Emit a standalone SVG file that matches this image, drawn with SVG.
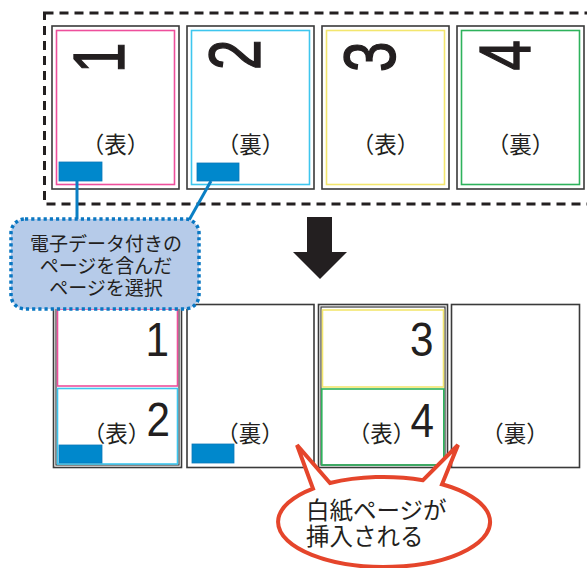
<svg xmlns="http://www.w3.org/2000/svg" width="587" height="568" viewBox="0 0 587 568">
<defs>
<style>
.page{fill:#fff;stroke:#3a3a3a;stroke-width:1.6}
.inner{fill:none;stroke:#3a3a3a;stroke-width:1.2}
.pink{fill:none;stroke:#ee4f9c;stroke-width:1.6}
.cyan{fill:none;stroke:#3ec6ee;stroke-width:1.6}
.yellow{fill:none;stroke:#f3e66e;stroke-width:1.6}
.green{fill:none;stroke:#2eb25c;stroke-width:1.6}
.chip{fill:#0088cc;stroke:#0a78b8;stroke-width:0.8}
.bigd{font-family:"Liberation Sans",Arial,sans-serif;font-size:72px;fill:#231f20;stroke:#231f20;stroke-width:1.4}
.smd{font-family:"Liberation Sans",Arial,sans-serif;font-size:48px;fill:#231f20}
.lbl{font-family:"Noto Sans CJK JP",sans-serif;font-size:22.5px;fill:#231f20;text-anchor:middle}
.ctext{font-family:"Noto Sans CJK JP",sans-serif;font-size:19px;fill:#231f20;text-anchor:middle}
.btext{font-family:"Noto Sans CJK JP",sans-serif;font-size:23.5px;fill:#231f20}
.conn{stroke:#0a7fc4;stroke-width:3;fill:none}
</style>
</defs>
<rect x="0" y="0" width="587" height="568" fill="#fff"/>

<g id="selection-frame">
<rect x="44.5" y="13" width="600" height="191" fill="none" stroke="#231f20" stroke-width="3" stroke-dasharray="9 6"/>
</g>

<g id="page1">
<rect class="page" x="52" y="26" width="127" height="163"/>
<rect class="pink" x="56.5" y="30.5" width="118" height="154"/>
<text class="bigd" transform="translate(124,73) rotate(-90) scale(0.76,1)">1</text>
<text class="lbl" x="115.5" y="152.5">（表）</text>
<rect class="chip" x="59" y="162" width="43" height="19"/>
</g>
<g id="page2">
<rect class="page" x="187" y="26" width="127" height="163"/>
<rect class="cyan" x="191.5" y="30.5" width="118" height="154"/>
<text class="bigd" transform="translate(260,70) rotate(-90) scale(0.76,1)">2</text>
<text class="lbl" x="250.5" y="152.5">（裏）</text>
<rect class="chip" x="197" y="163" width="42" height="18"/>
</g>
<g id="page3">
<rect class="page" x="322" y="26" width="127" height="163"/>
<rect class="yellow" x="326.5" y="30.5" width="118" height="154"/>
<text class="bigd" transform="translate(395,72) rotate(-90) scale(0.76,1)">3</text>
<text class="lbl" x="385.5" y="152.5">（表）</text>
</g>
<g id="page4">
<rect class="page" x="457" y="26" width="127" height="163"/>
<rect class="green" x="461.5" y="30.5" width="118" height="154"/>
<text class="bigd" transform="translate(530,70.5) rotate(-90) scale(0.76,1)">4</text>
<text class="lbl" x="520.5" y="152.5">（裏）</text>
</g>

<g id="down-arrow">
<path d="M307,217 L332,217 L332,252 L347,252 L320,279 L293,252 L307,252 Z" fill="#231f20"/>
</g>

<g id="sheetA">
<rect class="page" x="53.5" y="304.5" width="128" height="163"/>
<rect class="inner" x="56" y="307" width="123" height="158"/>
<rect class="pink" x="57.5" y="309" width="120" height="77"/>
<rect class="cyan" x="57.5" y="388.5" width="120" height="75.5"/>
<text class="smd" transform="translate(145.5,356) scale(0.88,1)">1</text>
<text class="smd" transform="translate(146.5,436) scale(0.88,1)">2</text>
<text class="lbl" x="116.5" y="442">（表）</text>
<rect class="chip" x="59" y="445" width="43" height="18"/>
</g>
<g id="sheetB">
<rect class="page" x="187" y="304.5" width="127" height="163"/>
<text class="lbl" x="250" y="442">（裏）</text>
<rect class="chip" x="192" y="444" width="42" height="19"/>
</g>
<g id="sheetC">
<rect class="page" x="318.5" y="304.5" width="129" height="163"/>
<rect class="inner" x="321" y="307" width="124" height="158"/>
<rect class="yellow" x="322.5" y="310" width="121" height="77"/>
<rect class="green" x="321.8" y="389" width="122" height="76"/>
<text class="smd" transform="translate(410,356) scale(0.88,1)">3</text>
<text class="smd" transform="translate(410.5,437) scale(0.88,1)">4</text>
<text class="lbl" x="381.5" y="442">（表）</text>
</g>
<g id="sheetD">
<rect class="page" x="451.5" y="304.5" width="128" height="163"/>
<text class="lbl" x="515" y="442">（裏）</text>
</g>

<g id="connectors">
<line class="conn" x1="77" y1="181" x2="77" y2="222"/>
<line class="conn" x1="211" y1="181" x2="188" y2="222"/>
</g>

<g id="callout">
<rect x="11" y="219" width="188" height="90" rx="14" ry="14" fill="#b6cbe9" stroke="#0a77c2" stroke-width="3.5" stroke-dasharray="3.2 3"/>
<text class="ctext" x="106" y="251">電子データ付きの</text>
<text class="ctext" x="106" y="273">ページを含んだ</text>
<text class="ctext" x="106" y="295">ページを選択</text>
</g>

<g id="bubble">
<path d="M313,488.6 L297,445 L330,483 A106,45 0 0 1 423,480.2 L458,445 L442,484.3 A106,45 0 1 1 313,488.6 Z" fill="#fff" stroke="#e5452b" stroke-width="4" stroke-linejoin="miter"/>
<text class="btext" x="306" y="519">白紙ページが</text>
<text class="btext" x="306" y="545">挿入される</text>
</g>
</svg>
